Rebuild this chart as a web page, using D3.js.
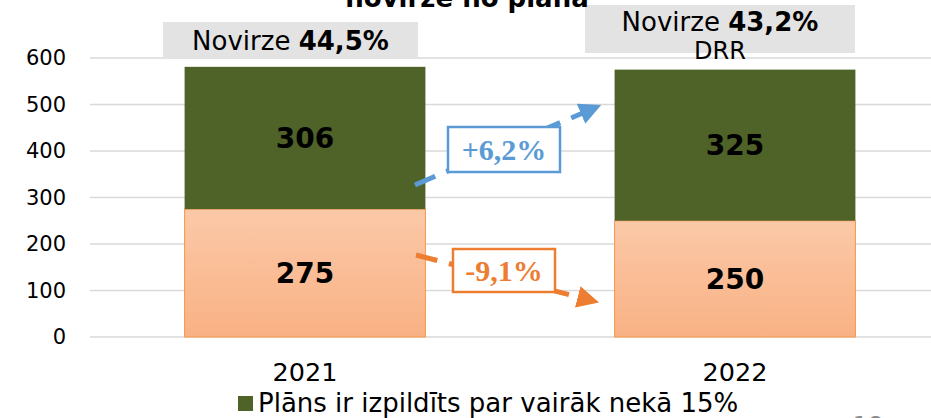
<!DOCTYPE html>
<html>
<head>
<meta charset="utf-8">
<script src="https://cdn.jsdelivr.net/npm/d3@7"></script>
<style>
  body { margin: 0; background: #fff; }
  svg { display: block; font-family: 'DejaVu Sans', Verdana, sans-serif; }
</style>
</head>
<body>
<div id="chart"></div>
<script>
// chart data
const years = ['2021', '2022']
const planValues = [275, 250]       // lower (orange) segment
const overValues = [306, 325]       // upper (green) segment
const yTicks = [0, 100, 200, 300, 400, 500, 600]
const deviationLabels = [['Novirze ', '44,5%', ''], ['Novirze ', '43,2%', 'DRR']]
const changeLabels = ['+6,2%', '-9,1%']
const legendLabel = 'Plāns ir izpildīts par vairāk nekā 15%'
const title = 'novirze no plāna'

const width = 931
const height = 418
const margin = { top: 58, right: -19, bottom: 81, left: 90 }

const svg = d3.select('#chart').append('svg')
  .attr('width', width)
  .attr('height', height)

const defs = svg.append('defs')
const grad = defs.append('linearGradient')
  .attr('id', 'orangeGrad')
  .attr('x1', 0).attr('y1', 0).attr('x2', 0).attr('y2', 1)
grad.append('stop').attr('offset', '0%').attr('stop-color', '#FBC9A8')
grad.append('stop').attr('offset', '100%').attr('stop-color', '#F9B184')

function arrowMarker (id, color) {
  defs.append('marker')
    .attr('id', id)
    .attr('viewBox', '0 0 10 10')
    .attr('refX', 2).attr('refY', 5)
    .attr('markerWidth', 4.4).attr('markerHeight', 4.4)
    .attr('markerUnits', 'strokeWidth')
    .attr('orient', 'auto')
    .append('path')
    .attr('d', 'M0,0 L10,5 L0,10 Z')
    .attr('fill', color)
}
arrowMarker('arrBlue', '#5B9BD5')
arrowMarker('arrOrange', '#ED7D31')

const x = d3.scaleBand()
  .domain(years)
  .range([margin.left, width - margin.right])
  .paddingInner(0.44)
  .paddingOuter(0.22)

const y = d3.scaleLinear()
  .domain([0, 600])
  .range([height - margin.bottom, margin.top])

// gridlines
svg.append('g')
  .selectAll('line')
  .data(yTicks)
  .join('line')
  .attr('x1', margin.left)
  .attr('x2', width)
  .attr('y1', d => y(d))
  .attr('y2', d => y(d))
  .attr('stroke', '#D9D9D9')
  .attr('stroke-width', 1.5)

// y axis labels
const yAxis = svg.append('g')
  .attr('transform', 'translate(' + (margin.left - 18) + ',0)')
  .call(d3.axisLeft(y).tickValues(yTicks).tickSize(0).tickPadding(6))
yAxis.select('.domain').remove()
yAxis.selectAll('text')
  .attr('font-size', 21)
  .attr('font-family', "'DejaVu Sans', Verdana, sans-serif")
  .attr('fill', '#000')

// bars
const rows = years.map((yr, i) => ({ year: yr, plan: planValues[i], over: overValues[i] }))

svg.append('g').selectAll('rect')
  .data(rows)
  .join('rect')
  .attr('x', d => x(d.year))
  .attr('width', x.bandwidth())
  .attr('y', d => y(d.plan))
  .attr('height', d => y(0) - y(d.plan))
  .attr('fill', 'url(#orangeGrad)')
  .attr('stroke', '#F79646')
  .attr('stroke-width', 1)

svg.append('g').selectAll('rect')
  .data(rows)
  .join('rect')
  .attr('x', d => x(d.year))
  .attr('width', x.bandwidth())
  .attr('y', d => y(d.plan + d.over))
  .attr('height', d => y(d.plan) - y(d.plan + d.over))
  .attr('fill', '#4F6228')

// value labels
const valueLabels = svg.append('g')
  .attr('font-size', 28)
  .attr('font-weight', 'bold')
  .attr('text-anchor', 'middle')
valueLabels.selectAll('.lbl-plan')
  .data(rows)
  .join('text')
  .attr('class', 'lbl-plan')
  .attr('x', d => x(d.year) + x.bandwidth() / 2)
  .attr('y', d => (y(0) + y(d.plan)) / 2)
  .attr('dy', '0.36em')
  .text(d => d.plan)
valueLabels.selectAll('.lbl-over')
  .data(rows)
  .join('text')
  .attr('class', 'lbl-over')
  .attr('x', d => x(d.year) + x.bandwidth() / 2)
  .attr('y', d => (y(d.plan) + y(d.plan + d.over)) / 2)
  .attr('dy', '0.36em')
  .text(d => d.over)

// x axis labels
svg.append('g').selectAll('text')
  .data(years)
  .join('text')
  .attr('x', d => x(d) + x.bandwidth() / 2)
  .attr('y', 381)
  .attr('text-anchor', 'middle')
  .attr('font-size', 25.5)
  .text(d => d)

// grey deviation boxes above bars
const boxes = [
  { x0: 163, x1: 418, y0: 22, y1: 58 },
  { x0: 585, x1: 855, y0: 5, y1: 53 }
]
boxes.forEach((b, i) => {
  svg.append('rect')
    .attr('x', b.x0).attr('y', b.y0)
    .attr('width', b.x1 - b.x0).attr('height', b.y1 - b.y0)
    .attr('fill', '#E3E3E3')
  const cx = (b.x0 + b.x1) / 2
  const lbl = deviationLabels[i]
  const t = svg.append('text')
    .attr('x', cx)
    .attr('y', lbl[2] ? 31 : 50)
    .attr('text-anchor', 'middle')
    .attr('font-size', 26)
  t.append('tspan').text(lbl[0])
  t.append('tspan').attr('font-weight', 'bold').text(lbl[1])
  if (lbl[2]) {
    svg.append('text')
      .attr('x', cx)
      .attr('y', 59)
      .attr('text-anchor', 'middle')
      .attr('font-size', 24)
      .text(lbl[2])
  }
})

// title (cut off at top, as in the source slide)
svg.append('text')
  .attr('x', 467)
  .attr('y', 7)
  .attr('text-anchor', 'middle')
  .attr('font-size', 26)
  .attr('font-weight', 'bold')
  .text(title)

// change arrows
function changeArrow (p0, p1, color, marker, box, label) {
  svg.append('line')
    .attr('x1', p0[0]).attr('y1', p0[1])
    .attr('x2', p1[0]).attr('y2', p1[1])
    .attr('stroke', color)
    .attr('stroke-width', 5)
    .attr('stroke-dasharray', '22,12')
    .attr('marker-end', 'url(#' + marker + ')')
  svg.append('rect')
    .attr('x', box[0]).attr('y', box[1])
    .attr('width', box[2]).attr('height', box[3])
    .attr('fill', '#fff')
    .attr('stroke', color)
    .attr('stroke-width', 2.5)
  svg.append('text')
    .attr('x', box[0] + box[2] / 2)
    .attr('y', box[1] + box[3] / 2)
    .attr('dy', '0.35em')
    .attr('text-anchor', 'middle')
    .attr('font-family', "'Liberation Serif', 'Times New Roman', serif")
    .attr('font-weight', 'bold')
    .attr('font-size', 30)
    .attr('fill', color)
    .text(label)
}
changeArrow([415, 185], [585, 112], '#5B9BD5', 'arrBlue', [448, 127, 112, 45], changeLabels[0])
changeArrow([416, 255], [582, 298], '#ED7D31', 'arrOrange', [453, 249, 102, 43], changeLabels[1])

// legend
svg.append('rect')
  .attr('x', 238).attr('y', 396)
  .attr('width', 15).attr('height', 15)
  .attr('fill', '#4F6228')
svg.append('text')
  .attr('x', 258).attr('y', 412)
  .attr('font-size', 26)
  .text(legendLabel)

// page number, mostly cut off
svg.append('text')
  .attr('x', 868).attr('y', 434)
  .attr('text-anchor', 'middle')
  .attr('font-size', 24)
  .attr('fill', '#8C8C8C')
  .text('18')
</script>
</body>
</html>
